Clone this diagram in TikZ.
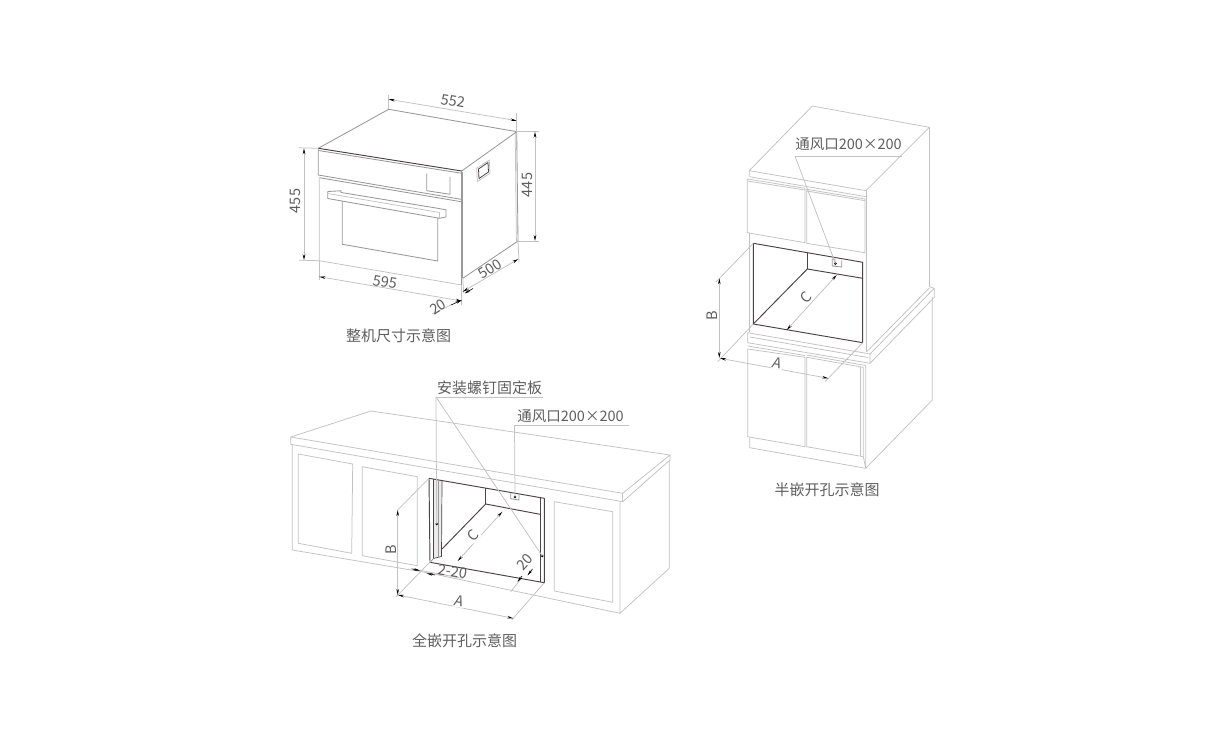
\documentclass[tikz,border=0pt]{standalone}
\usepackage{fontspec}
\setmainfont{Noto Sans CJK SC}
\usetikzlibrary{arrows.meta}
\definecolor{txtc}{HTML}{5E5E5E}
\definecolor{lite}{HTML}{C2C2C2}
\definecolor{midl}{HTML}{999999}
\definecolor{darkl}{HTML}{4A4444}
\tikzset{
  lbl/.style={text=txtc,inner sep=0pt,font=\fontsize{14.5}{17}\selectfont},
  captxt/.style={lbl,font=\fontsize{15}{18}\selectfont},
  thin line/.style={draw=lite,line width=0.75pt,line join=round},
  mid line/.style={draw=midl,line width=0.85pt,line join=round},
  dark line/.style={draw=darkl,line width=0.95pt,line join=round},
  dimln/.style={draw=lite,line width=0.75pt,{Stealth[length=6pt,width=2.6pt,black]}-{Stealth[length=6pt,width=2.6pt,black]}},
  tipln/.style={draw=black,line width=0.6pt,-{Stealth[length=6pt,width=2.6pt,black]}}
}
\begin{document}
\begin{tikzpicture}[x=1pt,y=-1pt]
\useasboundingbox (0,0) rectangle (1221,751);
\fill[white] (0,0) rectangle (1221,751);

% ---------- oven ----------
\draw[mid line] (318.3,148.3) -- (388.7,109.3) -- (516.7,131.7) -- (461.7,171);
\draw[dark line] (318.3,148.3) -- (461.7,171);
\draw[mid line] (318.3,150.5) -- (461.7,173.3);
\draw[mid line] (318.3,148.3) -- (318.3,175) -- (461,199.3);
\draw[mid line] (319.3,177.7) -- (461,201.7);
\draw[thin line] (319.3,177.7) -- (319.3,260.7) -- (461.7,285);
\draw[mid line] (461.2,171) -- (461.2,285);
\draw[mid line] (462.8,172) -- (462.8,278.3);
\draw[mid line] (462.8,278.3) -- (518,241);
\draw[mid line] (516.7,131.7) -- (518,241);
\draw[thin line] (515.2,133) -- (516.4,241);
\draw[mid line] (426.7,173.3) -- (426.7,190.7) -- (450,194.3) -- (450,177);
\draw[thin line] (476.7,168.3) -- (489.3,160) -- (490,173.3) -- (477.3,181.7) -- cycle;
\draw[dark line,line width=0.8pt] (478.5,169) -- (488,162.5) -- (488.5,172) -- (479,178.5) -- cycle;
% door handle
\draw[mid line] (327.7,191.5) -- (341,190.8) -- (341,192.5) -- (436,208) -- (446,209.8) -- (446,217) -- (439.5,218.3) -- (327.7,198.5) -- cycle;
\draw[thin line] (327.7,193.5) -- (439.5,212.5) -- (439.5,218.3);
% window
\draw[mid line] (342.3,201) -- (342.3,244.3) -- (437.7,261) -- (437.7,218);
% dims
\draw[thin line] (388.7,109.3) -- (388.7,95);
\draw[thin line] (516.7,131.7) -- (516.7,113);
\draw[dimln] (388.7,99.3) -- (516.7,120.7);
\node[lbl,rotate=-9] (d552) at (453,101) {552};
\draw[thin line] (299,147.8) -- (318.3,148.3);
\draw[thin line] (299,260.2) -- (319.3,260.7);
\draw[dimln] (304,148.3) -- (304,260.2);
\node[lbl,rotate=90] (d455) at (295,201) {455};
\draw[thin line] (516.7,131.7) -- (539,131.7);
\draw[thin line] (518,241) -- (539,241);
\draw[dimln] (535,131.7) -- (535,241);
\node[lbl,rotate=90] (d445) at (527,185) {445};
\draw[thin line] (319.3,260.7) -- (319.3,280);
\draw[thin line] (461.7,285) -- (461.7,305);
\draw[dimln] (319.3,276.7) -- (461.7,301);
\node[lbl,rotate=-9] (d595) at (385,282) {595};
\draw[thin line] (462.8,278.3) -- (463.7,293);
\draw[thin line] (518,241) -- (519,262);
\draw[dimln] (462.7,291.7) -- (518.3,259);
\node[lbl,rotate=33] (d500) at (490,269) {500};
\draw[tipln] (473,288.5) -- (464.5,293.5);
\draw[tipln] (451,305) -- (462,300);
\draw[thin line] (432,314) -- (451,305);
\node[lbl,rotate=33] (d20) at (438,307) {20};
\node[captxt] (t1) at (398.5,335.5) {整机尺寸示意图};

% ---------- half-embedded ----------
\draw[thin line] (749.3,176.7) -- (749.3,170.7) -- (812.3,106) -- (929.3,127.3) -- (866,190.7) -- (749.3,170.7);
\draw[thin line] (749.3,176.7) -- (866,196.7);
\draw[thin line] (866,190.7) -- (866,196.7);
\draw[thin line] (747.3,179) -- (805,188.3) -- (805,242.7) -- (747.3,232.7) -- cycle;
\draw[thin line] (747.3,181) -- (805,190);
\draw[thin line] (806.7,189.3) -- (865,199) -- (865,252.7) -- (806.7,243.3) -- cycle;
\draw[thin line] (806.7,191) -- (865,200.7);
\draw[thin line] (749.7,232.7) -- (749.7,331.7);
\draw[thin line] (866.7,196) -- (866.7,351.7);
\draw[thin line] (929.3,127.3) -- (929.3,286.7);
\draw[thin line] (747.7,332.7) -- (870,354) -- (934.3,288.3) -- (929.3,286.7);
\draw[thin line] (747.7,332.7) -- (747.7,342.7) -- (870,363.3) -- (870,354);
\draw[thin line] (866.7,351.7) -- (929.3,288);
\draw[thin line] (934.3,288.3) -- (934.3,297.3) -- (870,363.3);
\draw[thin line] (749.7,337) -- (868,357.5);
\draw[thin line] (747.7,349) -- (805,357.3) -- (805,446.7) -- (747.7,436.7) -- cycle;
\draw[thin line] (747.7,346) -- (805,355.5);
\draw[thin line] (806.7,357.3) -- (863.3,367.3) -- (863.3,456.7) -- (806.7,446.7) -- cycle;
\draw[thin line] (806.7,355) -- (865.7,365.5);
\draw[thin line] (860,367) -- (860,456);
\draw[thin line] (749.7,437.3) -- (749.7,447.7) -- (865.7,468.3) -- (865.7,365.5);
\draw[thin line] (863.3,456.7) -- (865.7,468.3);
\draw[thin line] (865.7,468.3) -- (932.3,400) -- (932.3,297);
\draw[thin line] (807.3,253.3) -- (807.3,269);
% opening
\draw[dark line] (753.3,243.3) -- (862.7,262.3) -- (862.7,342.7) -- (753.3,324) -- cycle;
\draw[dark line] (807.3,269) -- (862.7,278.3);
\draw[dark line] (807.3,269) -- (753.3,324);
\draw[dark line,line width=0.7pt] (807.3,253.3) -- (807.3,269);
\draw[mid line] (832.3,259) -- (832.3,266) -- (841.7,267) -- (841.7,260.5);
\draw[mid line] (832.3,259) -- (835,259.5) -- (835,266.2);
\fill[black] (835.5,263.5) circle (1.3pt);
% leader
\draw[thin line] (795,156.2) -- (901.7,156.2);
\draw[thin line] (795,156.2) -- (835.5,263.5);
\node[lbl] (v1) at (848.5,144) {通风口200×200};
% dims
\draw[thin line] (716,282) -- (753.3,243.3);
\draw[thin line] (717.7,361.7) -- (753.3,324);
\draw[thin line] (825,381.7) -- (862.7,342.7);
\draw[dimln] (719.3,278.3) -- (719.3,358);
\node[lbl,rotate=90] (lB) at (712,316) {B};
\draw[dimln] (720,358.3) -- (828.3,378.3);
\node[lbl,rotate=-9,fill=white,inner sep=1pt] (lA) at (777,363) {\addfontfeature{FakeSlant=0.15}A};
\draw[dimln] (786.7,330) -- (836.7,275);
\node[lbl,rotate=45,fill=white,inner sep=1pt] (lC) at (806,297) {C};
\node[captxt] (t2) at (827,489.5) {半嵌开孔示意图};

% ---------- full-embedded ----------
\draw[thin line] (290.7,437) -- (371,411) -- (670,455) -- (622.7,493.3) -- (290.7,437) -- (290.7,444.3) -- (622.7,501.7) -- (670,460) -- (670,455);
\draw[thin line] (622.7,493.3) -- (622.7,501.7);
\draw[thin line] (292.3,445) -- (292.3,550) -- (429,573);
\draw[thin line] (429,573) -- (620,613.3);
\draw[thin line] (620,501.7) -- (620,613.3) -- (669.3,568.3) -- (669.3,461);
\draw[thin line] (298.3,454) -- (352.7,464) -- (351.7,553.3) -- (298.3,543.3) -- cycle;
\draw[thin line] (362.3,466.7) -- (417.3,476.7) -- (417.3,565.7) -- (362.3,555.7) -- cycle;
\draw[thin line] (554.3,501.7) -- (612.7,511.7) -- (612.7,602.3) -- (554.3,591) -- cycle;
% opening
\fill[black!8] (433.5,479) -- (442,481) -- (441.5,556.5) -- (433.5,558.5) -- cycle;
\draw[dark line] (429,478.3) -- (544.3,498.3) -- (544.3,582.7) -- (430,562.3) -- cycle;
\draw[dark line,line width=0.7pt] (485.7,488.3) -- (485.7,504);
\draw[dark line] (485.7,504) -- (540,514.3);
\draw[dark line] (485.7,504) -- (442,549);
\draw[dark line,line width=0.7pt] (540,497.5) -- (540,581.5);
\draw[dark line,line width=0.7pt] (433.5,479) -- (433.5,558.5) -- (441.5,556.5) -- (442,481);
\draw[mid line] (438.5,480) -- (438.5,557.5);
\draw[mid line] (430,562.3) -- (433.5,558.5);
\draw[mid line] (510.7,492.7) -- (510.7,498.7) -- (519,500) -- (519,494.3);
\fill[black] (515,497) circle (1.4pt);
\fill[black] (436.7,524) circle (1.4pt);
\fill[black] (542.3,556) circle (1.4pt);
% leaders
\draw[thin line] (436,397) -- (543,397);
\draw[thin line] (436,397) -- (436.7,524);
\draw[thin line] (436,397) -- (542.3,556);
\node[captxt] (s1) at (489.5,387.5) {安装螺钉固定板};
\draw[thin line] (514.5,425) -- (629,425);
\draw[thin line] (514.5,425) -- (515,497);
\node[lbl] (v2) at (570.5,416) {通风口200×200};
% dims
\draw[thin line] (397.7,510) -- (429,478.3);
\draw[thin line] (396,597) -- (431,561);
\draw[thin line] (511.7,620) -- (544.3,582.7);
\draw[dimln] (397.7,510) -- (397.7,595);
\node[lbl,rotate=90] (fB) at (391,550) {B};
\draw[dimln] (398,595) -- (513.3,618.3);
\node[lbl,rotate=-9,fill=white,inner sep=1pt] (fA) at (459,601) {\addfontfeature{FakeSlant=0.15}A};
\draw[dimln] (457.7,561) -- (502.3,511.7);
\node[lbl,rotate=45,fill=white,inner sep=1pt] (fC) at (473,535) {C};
\draw[thin line] (413,569) -- (463.3,578.5);
\draw[tipln] (411.5,568.8) -- (420,570.6);
\draw[tipln] (435,575) -- (426.5,573.4);
\node[lbl,rotate=-10] (d220) at (453,571.5) {2-20};
\draw[thin line] (510.7,591.7) -- (520,580);
\draw[tipln] (522,576) -- (517.5,582);
\draw[tipln] (532.5,569) -- (527.5,575.5);
\node[lbl,rotate=48] (d20b) at (525,562) {20};
\node[captxt] (t3) at (464.5,640.5) {全嵌开孔示意图};
\end{tikzpicture}
\end{document}
